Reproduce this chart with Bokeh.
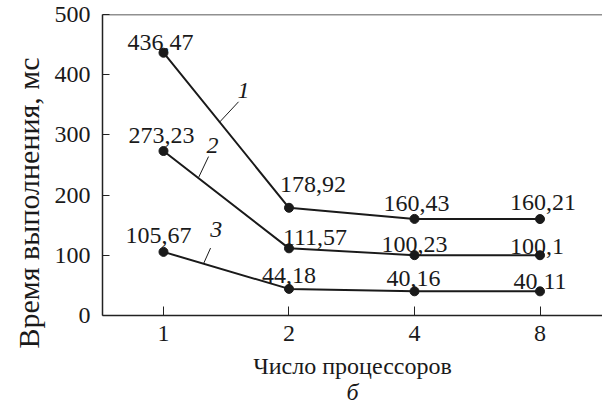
from bokeh.plotting import figure
from bokeh.models import Range1d, FixedTicker, Span, ColumnDataSource, LinearAxis, Title
from bokeh.core.properties import value
from bokeh.embed import file_html
from bokeh.resources import INLINE

# Number of processors (x tick labels) and execution times, ms
processors = ["1", "2", "4", "8"]
time_curve1 = [436.47, 178.92, 160.43, 160.21]
time_curve2 = [273.23, 111.57, 100.23, 100.1]
time_curve3 = [105.67, 44.18, 40.16, 40.11]
y_ticks = [0, 100, 200, 300, 400, 500]

FONT = "Liberation Serif"
INK = "#1a1a1a"

p = figure(width=602, height=407, output_backend="svg", toolbar_location=None,
           x_range=Range1d(-0.486, 3.498), y_range=Range1d(0, 500),
           min_border_left=102, min_border_right=0, min_border_top=14,
           min_border_bottom=90)
p.outline_line_color = None
p.xgrid.visible = False
p.ygrid.visible = False
p.background_fill_color = "white"
p.border_fill_color = "white"

xs = list(range(len(processors)))

# value label offsets in screen pixels (per curve, per point)
dx = [[-3, 24, 2, 3], [-2, 26, 0, -3], [-5, 0, -1, 0]]
dy = [[-10, -23, -15, -17], [-16, -11, -11, -9], [-16, -13, -13, -10]]

for series, ox, oy in zip([time_curve1, time_curve2, time_curve3], dx, dy):
    src = ColumnDataSource(dict(
        x=xs, y=series,
        lbl=[str(v).replace(".", ",") for v in series],
        ox=ox, oy=oy))
    p.line("x", "y", source=src, line_color=INK, line_width=2)
    p.scatter("x", "y", source=src, size=9, fill_color=INK, line_color=INK)
    p.text("x", "y", text="lbl", source=src, x_offset="ox", y_offset="oy",
           text_font=value(FONT), text_font_size="24px", text_color=INK,
           text_align="center", text_baseline="alphabetic")

# curve numbers with leader lines
p.segment(x0=[0.598, 0.359, 0.375], y0=[355, 264, 112],
          x1=[0.446, 0.279, 0.319], y1=[321, 229, 86],
          line_color=INK, line_width=1)
p.text(x=[0.637, 0.39, 0.42], y=[374, 282, 143], text=["1", "2", "3"],
       text_font=value(FONT), text_font_style="italic", text_font_size="24px",
       text_color=INK, text_align="center", text_baseline="middle")

# top border of the frame
p.add_layout(Span(location=500, dimension="width", line_color="#222",
                  line_width=1.5))

# panel letter under the x-axis title
sub_axis = LinearAxis(ticker=FixedTicker(ticks=[]), axis_line_color=None,
                      major_tick_line_color=None, minor_tick_line_color=None,
                      major_label_text_font_size="0px", axis_label="б",
                      axis_label_standoff=-3)
p.add_layout(sub_axis, "below")

for ax in (p.xaxis[0], p.yaxis[0]):
    ax.axis_line_color = "#222"
    ax.axis_line_width = 1.5
    ax.major_tick_line_color = "#222"
    ax.major_tick_line_width = 1
    ax.major_tick_out = 0
    ax.minor_tick_line_color = None
    ax.major_label_text_font = FONT
    ax.major_label_text_font_size = "24px"
    ax.major_label_text_color = INK

for ax in (p.xaxis[0], sub_axis):
    ax.axis_label_text_font = FONT
    ax.axis_label_text_font_size = "24px"
    ax.axis_label_text_font_style = "normal"
    ax.axis_label_text_color = INK
sub_axis.axis_label_text_font_style = "italic"

p.xaxis[0].ticker = FixedTicker(ticks=xs)
p.xaxis[0].major_label_overrides = {i: s for i, s in enumerate(processors)}
p.xaxis[0].major_tick_in = 9
p.xaxis[0].major_label_standoff = 10
p.xaxis[0].axis_label = "Число процессоров"
p.xaxis[0].axis_label_standoff = 9

p.yaxis.ticker = FixedTicker(ticks=y_ticks)
p.yaxis.major_tick_in = 7
p.yaxis.major_label_standoff = 12

# y-axis title: starts below the frame's bottom edge and reads upward
p.add_layout(Title(text="Время выполнения, мс", align="left", offset=-33,
                   vertical_align="top", text_font=FONT, text_font_size="30px",
                   text_font_style="normal", text_color=INK, standoff=10),
             "left")

open("out.html", "w").write(file_html(p, INLINE))
